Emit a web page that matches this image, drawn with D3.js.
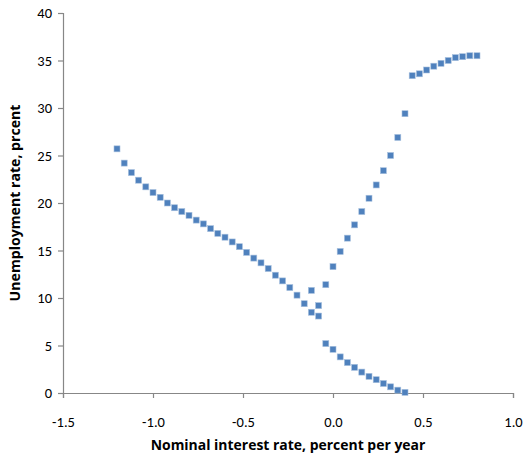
<!doctype html>
<html>
<head>
<script src="https://d3js.org/d3.v7.min.js"></script>
<style>
  body { margin: 0; background: #fff; }
  text { font-family: Carlito, Lato, "Open Sans", sans-serif; fill: #000; }
  .title { font-family: "Open Sans", Lato, sans-serif; font-weight: bold; }
</style>
</head>
<body>
<svg width="527" height="456" id="chart"></svg>
<script>
// nominal interest rate (x) and unemployment rate (y)
var rate = [-1.20, -1.16, -1.12, -1.08, -1.04, -1.00, -0.96, -0.92, -0.88, -0.84,
            -0.80, -0.76, -0.72, -0.68, -0.64, -0.60, -0.56, -0.52, -0.48, -0.44,
            -0.40, -0.36, -0.32, -0.28, -0.24, -0.20, -0.16, -0.12, -0.08,
            -0.08, -0.12, -0.04, 0.00, 0.04, 0.08, 0.12, 0.16, 0.20, 0.24, 0.28,
            0.32, 0.36, 0.40, 0.44, 0.48, 0.52, 0.56, 0.60, 0.64, 0.68, 0.72,
            0.76, 0.80,
            -0.04, 0.00, 0.04, 0.08, 0.12, 0.16, 0.20, 0.24, 0.28, 0.32, 0.36, 0.40];
var unemp = [25.7, 24.2, 23.2, 22.4, 21.7, 21.1, 20.6, 20.0, 19.5, 19.1,
             18.7, 18.2, 17.8, 17.3, 16.8, 16.4, 15.9, 15.4, 14.8, 14.2,
             13.7, 13.1, 12.4, 11.8, 11.1, 10.3, 9.4, 8.5, 8.1,
             9.2, 10.8, 11.4, 13.3, 14.9, 16.3, 17.7, 19.1, 20.5, 21.9, 23.4,
             25.0, 26.9, 29.4, 33.4, 33.6, 34.0, 34.4, 34.7, 35.0, 35.3, 35.4,
             35.5, 35.5,
             5.2, 4.6, 3.8, 3.2, 2.7, 2.2, 1.75, 1.4, 1.0, 0.65, 0.3, 0.07];
var xTicks = [-1.5, -1.0, -0.5, 0.0, 0.5, 1.0];
var yTicks = [0, 5, 10, 15, 20, 25, 30, 35, 40];

var svg = d3.select("#chart");
var plotL = 63, plotR = 513, plotT = 13, plotB = 393;

var x = d3.scaleLinear().domain([-1.5, 1.0]).range([plotL, plotR]);
var y = d3.scaleLinear().domain([0, 40]).range([plotB, plotT]);

// y axis
var ya = svg.append("g")
  .attr("transform", "translate(" + plotL + ",0)")
  .call(d3.axisLeft(y).tickValues(yTicks).tickSize(5).tickPadding(6).tickFormat(d3.format("d")));
// x axis
var xa = svg.append("g")
  .attr("transform", "translate(0," + plotB + ")")
  .call(d3.axisBottom(x).tickValues(xTicks).tickSize(5).tickPadding(19).tickFormat(d3.format(".1f")));

[ya, xa].forEach(function (a) {
  a.select(".domain").attr("stroke", "#878787").attr("stroke-width", 1.2);
  a.selectAll(".tick line").attr("stroke", "#878787").attr("stroke-width", 1.2);
  a.selectAll(".tick text").style("font-size", "14.5px").attr("fill", "#000");
});
// keep the minus sign as a hyphen like the original
xa.selectAll(".tick text").text(function (d) { return d3.format(".1f")(d).replace("−", "-"); });

// points
svg.append("g")
  .selectAll("rect")
  .data(rate.map(function (r, i) { return [r, unemp[i]]; }))
  .enter()
  .append("rect")
  .attr("x", function (d) { return x(d[0]) - 3; })
  .attr("y", function (d) { return y(d[1]) - 3; })
  .attr("width", 6)
  .attr("height", 6)
  .attr("fill", "#4F81BD")
  .attr("stroke", "#A7C0DE")
  .attr("stroke-width", 0.6);

// axis titles, font size fitted to the width they take in the original
function fit(t, w) {
  var len = t.node().getComputedTextLength();
  t.style("font-size", (13 * w / len) + "px");
}
var xt = svg.append("text")
  .attr("class", "title")
  .attr("x", (plotL + plotR) / 2)
  .attr("y", 450)
  .attr("text-anchor", "middle")
  .style("font-size", "13px")
  .text("Nominal interest rate, percent per year");
fit(xt, 275);

var yt = svg.append("text")
  .attr("class", "title")
  .attr("text-anchor", "middle")
  .attr("transform", "translate(19.5," + ((plotT + plotB) / 2) + ")rotate(-90)")
  .style("font-size", "13px")
  .text("Unemployment rate, prcent");
fit(yt, 197);
</script>
</body>
</html>
